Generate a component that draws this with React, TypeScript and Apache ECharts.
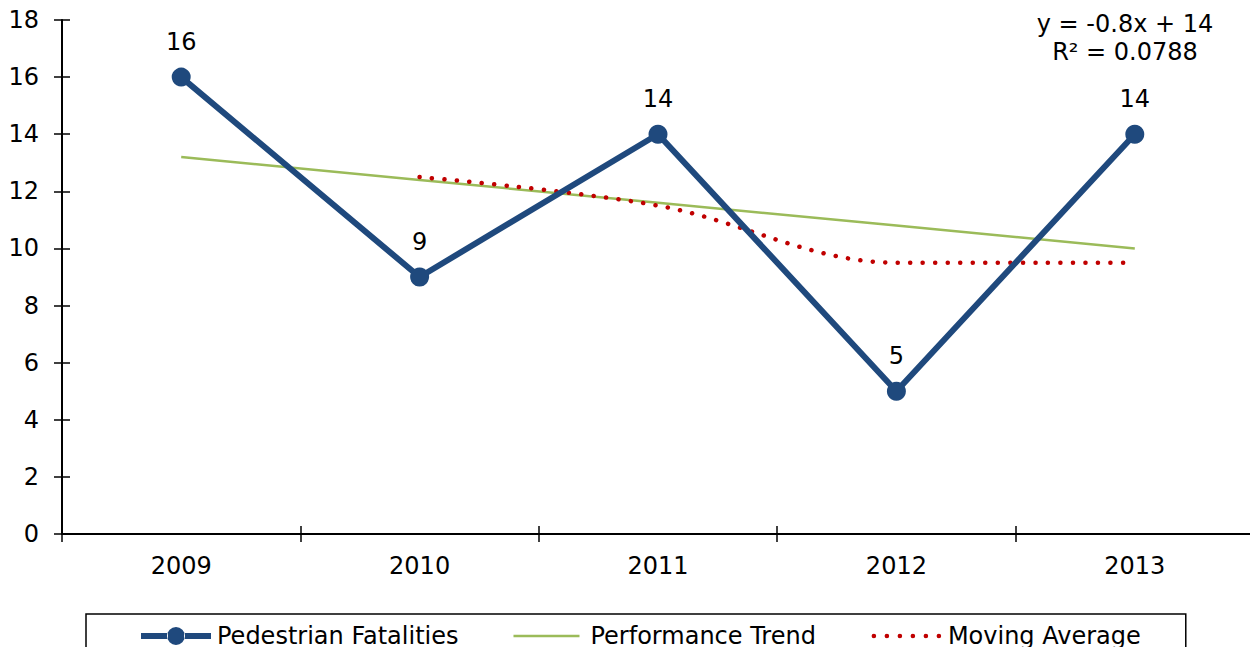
import React, { useEffect, useRef } from "react";
import * as echarts from "echarts";

const years = ["2009", "2010", "2011", "2012", "2013"];
const fatalities = [16, 9, 14, 5, 14];
const trend = [13.2, 12.4, 11.6, 10.8, 10.0];
const movingAvg: (number | string)[] = ["-", 12.5, 11.5, 9.5, 9.5];
const equationLines = ["y = -0.8x + 14", "R² = 0.0788"];

const FONT = "DejaVu Sans, Verdana, sans-serif";

// legend icon shapes (72 x 24 box, corner specks fix the bounding box)
const corners = "M0,0h0.01v0.01h-0.01Z M71.99,23.99h0.01v0.01h-0.01Z ";
const circ = (cx: number, cy: number, r: number) =>
  `M${cx - r},${cy} a${r},${r} 0 1,0 ${2 * r},0 a${r},${r} 0 1,0 ${-2 * r},0 Z `;
const iconPed =
  "path://" + corners + "M1,9 H28 V15 H1 Z M44,9 H71 V15 H44 Z " + circ(36, 12, 9);
const iconTrend = "path://" + corners + "M0,10.75 H66 V13.25 H0 Z";
let dots = "";
for (let i = 0; i < 6; i++) dots += circ(3 + i * 13, 12, 2.3);
const iconMA = "path://" + corners + dots;

export default function App() {
  const ref = useRef<HTMLDivElement>(null);
  useEffect(() => {
    if (!ref.current) return;
    const chart = echarts.init(ref.current, undefined, { renderer: "svg" });
    chart.setOption({
      animation: false,
      backgroundColor: "#ffffff",
      textStyle: { fontFamily: FONT },
      grid: { left: 62, right: 4, top: 20, bottom: 121 },
      xAxis: [
        {
          type: "category",
          data: years,
          boundaryGap: true,
          axisLine: { lineStyle: { color: "#000", width: 2 } },
          axisTick: { show: true, length: 8, lineStyle: { color: "#000", width: 1.5 } },
          axisLabel: { color: "#000", fontSize: 24, fontFamily: FONT, margin: 20 },
          splitLine: { show: false },
        },
        {
          type: "category",
          data: years,
          position: "bottom",
          boundaryGap: true,
          axisLine: { show: false },
          axisTick: { show: true, inside: true, length: 8, lineStyle: { color: "#000", width: 1.5 } },
          axisLabel: { show: false },
          splitLine: { show: false },
        },
      ],
      yAxis: [
        {
          type: "value",
          min: 0,
          max: 18,
          interval: 2,
          axisLine: { show: true, lineStyle: { color: "#000", width: 2 } },
          axisTick: { show: true, length: 8, lineStyle: { color: "#000", width: 1.5 } },
          axisLabel: { color: "#000", fontSize: 24, fontFamily: FONT, margin: 23 },
          splitLine: { show: false },
        },
        {
          type: "value",
          min: 0,
          max: 18,
          interval: 2,
          position: "left",
          axisLine: { show: false },
          axisTick: { show: true, inside: true, length: 8, lineStyle: { color: "#000", width: 1.5 } },
          axisLabel: { show: false },
          splitLine: { show: false },
        },
      ],
      legend: {
        left: 86,
        top: 614,
        orient: "horizontal",
        padding: [10, 45, 30, 54],
        itemGap: 55,
        itemWidth: 72,
        itemHeight: 24,
        borderColor: "#000",
        borderWidth: 1.5,
        textStyle: { color: "#000", fontSize: 24, fontFamily: FONT },
        data: [
          { name: "Pedestrian Fatalities", icon: iconPed },
          { name: "Performance Trend", icon: iconTrend },
          { name: "Moving Average", icon: iconMA },
        ],
      },
      graphic: [
        {
          type: "text",
          x: 1125,
          y: 10,
          style: {
            text: equationLines.join("\n"),
            fill: "#000",
            font: `24px ${FONT}`,
            align: "center",
            verticalAlign: "top",
            lineHeight: 28,
          },
        },
      ],
      series: [
        {
          name: "Performance Trend",
          type: "line",
          data: trend,
          symbol: "none",
          lineStyle: { color: "#9BBB59", width: 2.5 },
          itemStyle: { color: "#9BBB59" },
          z: 2,
        },
        {
          name: "Moving Average",
          type: "line",
          data: movingAvg,
          symbol: "none",
          smooth: 0.35,
          lineStyle: { color: "#C00000", width: 4.5, type: [0.1, 12.4], cap: "round" },
          itemStyle: { color: "#C00000" },
          z: 3,
        },
        {
          name: "Pedestrian Fatalities",
          type: "line",
          data: fatalities,
          symbol: "circle",
          symbolSize: 19,
          lineStyle: { color: "#1F497D", width: 6 },
          itemStyle: { color: "#1F497D" },
          label: {
            show: true,
            position: "top",
            distance: 14,
            color: "#000",
            fontSize: 24,
            fontFamily: FONT,
          },
          z: 4,
        },
      ],
    });
    return () => chart.dispose();
  }, []);
  return <div ref={ref} style={{ width: 1258, height: 655, margin: -8 }} />;
}
